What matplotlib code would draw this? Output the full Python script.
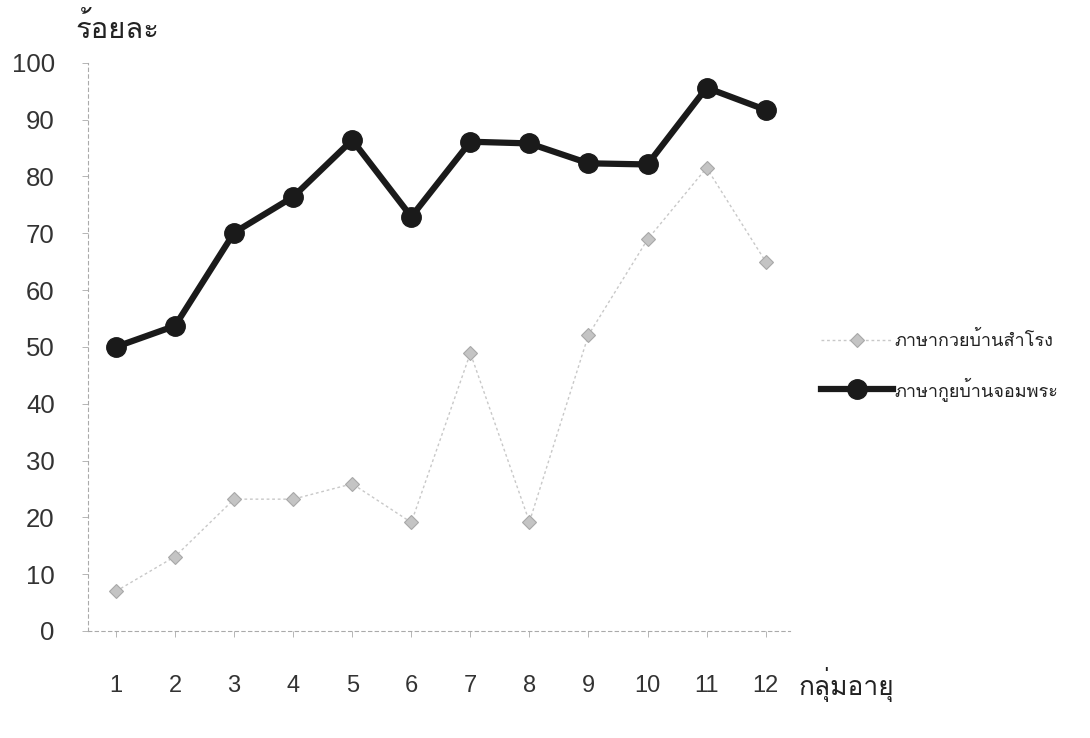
import matplotlib
matplotlib.use("Agg")
import matplotlib.pyplot as plt
from matplotlib import font_manager
from matplotlib.ft2font import FT2Font

# ---- data ----
age_groups = [1, 2, 3, 4, 5, 6, 7, 8, 9, 10, 11, 12]
x_tick_labels = ["1", "2", "3", "4", "5", "6", "7", "8", "9", "10", "11", "12"]
kuay_samrong = [7.0, 13.1, 23.2, 23.2, 25.9, 19.1, 48.9, 19.2, 52.1, 68.9, 81.5, 65.0]
kui_chompra = [50.0, 53.7, 70.1, 76.4, 86.4, 72.9, 86.1, 85.8, 82.3, 82.1, 95.6, 91.7]
y_ticks = [0, 10, 20, 30, 40, 50, 60, 70, 80, 90, 100]
label_series1 = "ภาษากวยบ้านสำโรง"
label_series2 = "ภาษากูยบ้านจอมพระ"
y_title = "ร้อยละ"
x_title = "กลุ่มอายุ"

# ---- find a font with Thai glyphs ----
thai_fams = []
for f in font_manager.fontManager.ttflist:
    try:
        ft = FT2Font(f.fname)
        cm = ft.get_charmap()
        if 0x0E23 in cm and 0x0E2D in cm:
            if f.name not in thai_fams:
                thai_fams.append(f.name)
    except Exception:
        pass
pref = [n for n in thai_fams if "Noto Sans Thai" in n or "Loma" in n or "Garuda" in n]
thai_list = pref + [n for n in thai_fams if n not in pref]
fam_thai = thai_list + ["Liberation Sans", "DejaVu Sans"]
plt.rcParams['font.family'] = fam_thai

fig = plt.figure(figsize=(10.9, 7.38), dpi=100)
ax = fig.add_axes([0.0807, 0.145, 0.6445, 0.770])

ax.plot(age_groups, kuay_samrong, color="#c8c8c8", lw=1.0, ls=(0, (2, 2)),
        marker="D", markersize=7, markerfacecolor="#c4c4c4",
        markeredgecolor="#a8a8a8", markeredgewidth=0.8,
        label=label_series1, zorder=2)
ax.plot(age_groups, kui_chompra, color="#1a1a1a", lw=4.5,
        marker="o", markersize=14, markerfacecolor="#1a1a1a",
        markeredgecolor="#1a1a1a", label=label_series2, zorder=3)

ax.set_xlim(0.525, 12.42)
ax.set_ylim(0, 100)
ax.set_yticks(y_ticks)
ax.set_yticklabels([str(v) for v in y_ticks], family=["Liberation Sans", "DejaVu Sans"],
                   fontsize=18.5, color="#333333")
ax.set_xticks(age_groups)
ax.set_xticklabels(x_tick_labels, family=["Liberation Sans Narrow", "Liberation Sans", "DejaVu Sans"],
                   fontsize=17, color="#333333")
ax.tick_params(axis="y", length=4, width=0.6, color="#aaaaaa", pad=20)
ax.tick_params(axis="x", length=4, width=0.6, color="#aaaaaa", pad=28, direction="out")

for s in ["top", "right"]:
    ax.spines[s].set_visible(False)
for s in ["left", "bottom"]:
    ax.spines[s].set_color("#aaaaaa")
    ax.spines[s].set_linewidth(0.8)
    ax.spines[s].set_linestyle((0, (3, 3)))

fig.text(0.069, 0.962, y_title, fontsize=21, color="#222222", ha="left", va="center")
fig.text(0.733, 0.072, x_title, fontsize=19, color="#222222", ha="left", va="center")

leg = ax.legend(loc="center left", bbox_to_anchor=(0.738, 0.504), bbox_transform=fig.transFigure,
                frameon=False, handlelength=4.0, handletextpad=0.1, labelspacing=1.45,
                prop={"family": fam_thai, "size": 13})
for t in leg.get_texts():
    t.set_color("#222222")

fig.savefig("out.png", dpi=100)
